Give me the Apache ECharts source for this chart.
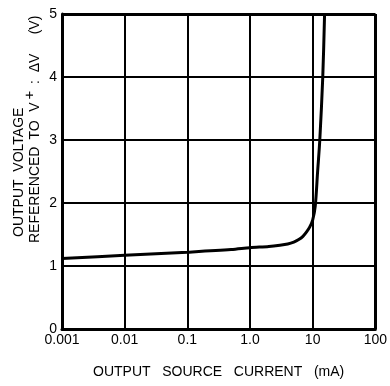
<!DOCTYPE html>
<html>
<head>
<meta charset="utf-8">
<script src="https://cdn.jsdelivr.net/npm/echarts@6/dist/echarts.min.js"></script>
<style>
  html, body { margin: 0; padding: 0; background: #fff; }
  #chart { width: 390px; height: 386px; }
</style>
</head>
<body>
<div id="chart"></div>
<script>
  // output source current (mA) and voltage referenced to V+ (V)
  var currents = [0.001, 0.01, 0.1, 0.5, 1.0, 2, 3, 4, 5, 6, 7, 8, 9, 10, 11, 12, 13, 14.5, 15.5];
  var voltages = [1.12, 1.17, 1.22, 1.26, 1.29, 1.31, 1.33, 1.35, 1.38, 1.42, 1.47, 1.54, 1.62, 1.73, 1.95, 2.5, 3.0, 4.0, 5.0];
  var xTickLabels = {'0.001': '0.001', '0.01': '0.01', '0.1': '0.1', '1': '1.0', '10': '10', '100': '100'};
  var xTitle = 'OUTPUT   SOURCE   CURRENT   (mA)';
  var yTitle1 = 'OUTPUT  VOLTAGE';
  // second y title line, split so the superscript "+" and the wide spacing can be kept
  var yTitle2 = ['REFERENCED', 'TO', 'V', '+', ':', 'ΔV', '(V)'];

  var chart = echarts.init(document.getElementById('chart'));
  var data = currents.map(function (c, i) { return [c, voltages[i]]; });
  var font = 'Liberation Sans, Arial, sans-serif';

  function vtext(x, y, text, size, align) {
    return {
      type: 'text', x: x, y: y, rotation: Math.PI / 2,
      style: { text: text, font: size + 'px ' + font, fill: '#000', textAlign: align, textVerticalAlign: 'middle' }
    };
  }

  // [x, y, align, size] for each piece of the second line
  var line2Pos = [[35, 243, 'left', 14], [35, 130, 'center', 14], [35, 107, 'center', 14], [30, 95, 'center', 15],
                  [35, 82, 'center', 14], [35, 63, 'center', 14], [35, 25, 'center', 14]];
  var titleGraphics = [vtext(19, 237, yTitle1, 14, 'left')];
  yTitle2.forEach(function (t, i) {
    var p = line2Pos[i];
    titleGraphics.push(vtext(p[0], p[1], t, p[3], p[2]));
  });

  chart.setOption({
    animation: false,
    grid: { left: 62, top: 14, width: 315, height: 315 },
    graphic: titleGraphics,
    xAxis: {
      type: 'log',
      logBase: 10,
      min: 0.001,
      max: 100,
      name: xTitle,
      nameLocation: 'middle',
      nameGap: 36,
      nameTextStyle: { color: '#000', fontSize: 14, fontFamily: font },
      axisLine: { show: true, lineStyle: { color: '#000', width: 3 } },
      axisTick: { show: false },
      axisLabel: {
        color: '#000', fontSize: 14, fontFamily: font, margin: 4,
        formatter: function (v) {
          var k = String(+v.toPrecision(3));
          return xTickLabels[k] !== undefined ? xTickLabels[k] : '';
        }
      },
      splitLine: { show: true, lineStyle: { color: '#000', width: 2 } },
      minorTick: { show: false }
    },
    yAxis: {
      type: 'value',
      min: 0,
      max: 5,
      interval: 1,
      axisLine: { show: true, lineStyle: { color: '#000', width: 3 } },
      axisTick: { show: false },
      axisLabel: { color: '#000', fontSize: 14, fontFamily: font, margin: 5 },
      splitLine: { show: true, lineStyle: { color: '#000', width: 2 } }
    },
    series: [{
      type: 'line',
      data: data,
      smooth: 0.3,
      showSymbol: false,
      lineStyle: { color: '#000', width: 3 }
    }, {
      // right and top frame
      type: 'line',
      data: [],
      markLine: {
        silent: true,
        symbol: 'none',
        label: { show: false },
        lineStyle: { color: '#000', width: 3, type: 'solid' },
        data: [{ xAxis: 100 }, { yAxis: 5 }]
      }
    }]
  });
</script>
</body>
</html>
